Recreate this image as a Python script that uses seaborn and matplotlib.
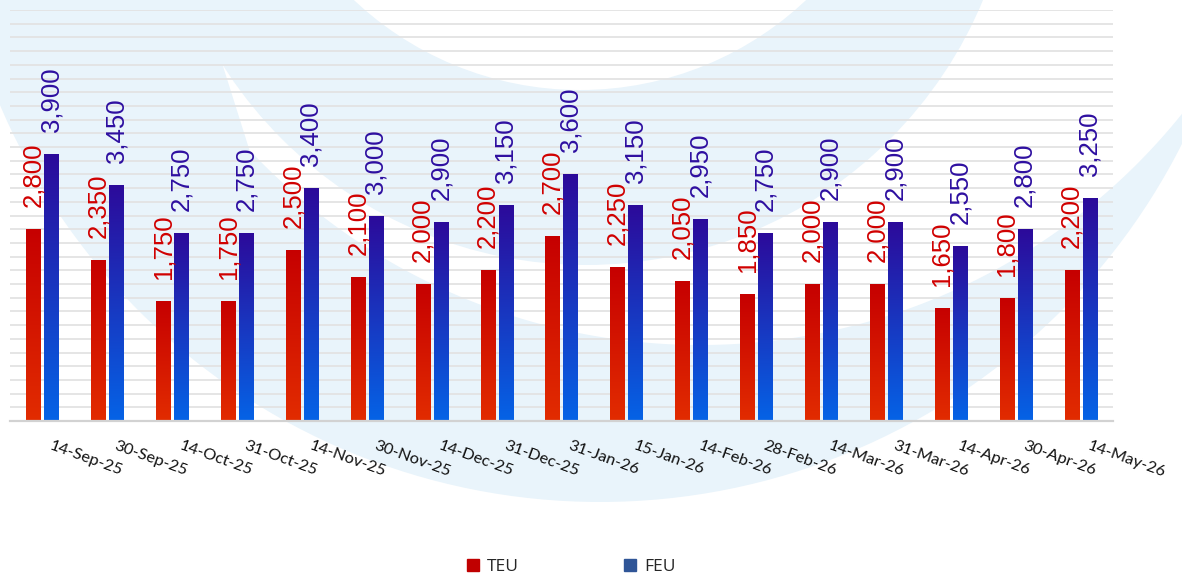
import numpy as np
import pandas as pd
import matplotlib
matplotlib.use("Agg")
import matplotlib.pyplot as plt
import matplotlib.transforms as mtrans
import seaborn as sns
from matplotlib.patches import Circle, Polygon
from matplotlib.lines import Line2D
from matplotlib.colors import LinearSegmentedColormap

# ---- data ----
dates = ["14-Sep-25", "30-Sep-25", "14-Oct-25", "31-Oct-25", "14-Nov-25",
         "30-Nov-25", "14-Dec-25", "31-Dec-25", "31-Jan-26", "15-Jan-26",
         "14-Feb-26", "28-Feb-26", "14-Mar-26", "31-Mar-26", "14-Apr-26",
         "30-Apr-26", "14-May-26"]
teu = [2800, 2350, 1750, 1750, 2500, 2100, 2000, 2200, 2700, 2250,
       2050, 1850, 2000, 2000, 1650, 1800, 2200]
feu = [3900, 3450, 2750, 2750, 3400, 3000, 2900, 3150, 3600, 3150,
       2950, 2750, 2900, 2900, 2550, 2800, 3250]
series = ["TEU", "FEU"]

df = pd.DataFrame({
    "date": dates * 2,
    "series": ["TEU"] * len(dates) + ["FEU"] * len(dates),
    "value": teu + feu,
})

# ---- styling ----
sns.set_theme(style="white")
plt.rcParams["font.family"] = ["Liberation Sans", "DejaVu Sans"]

W, H = 1182, 576
fig = plt.figure(figsize=(W / 100, H / 100), dpi=100, facecolor="white")

# faint logo watermark behind the chart (pixel coordinates, y downwards)
LB = "#E9F4FB"
bg = fig.add_axes([0, 0, 1, 1], zorder=0)
bg.set_xlim(0, W)
bg.set_ylim(H, 0)
bg.axis("off")
bg.add_patch(Circle((600, -150), 652, fc=LB, ec="none"))

# white swoosh: a large arc that tapers to a point on the upper left
cx, cy, r = 700.0, -273.0, 618.0
start = np.arctan2(150 - cy, np.sqrt(r**2 - (150 - cy) ** 2) * -1)
end = np.arctan2(-60 - cy, np.sqrt(r**2 - (-60 - cy) ** 2))
t = np.linspace(start, end - 2 * np.pi if end > start else end, 200)
arc = np.column_stack([cx + r * np.cos(t), cy + r * np.sin(t)])
swoosh = np.vstack([[[222, 63]], arc, [[1300, -60], [222, -60]]])
bg.add_patch(Polygon(swoosh, closed=True, fc="white", ec="none"))

bg.add_patch(Circle((586, -165), 430, fc=LB, ec="none"))
bg.add_patch(Circle((580, -239), 329, fc="white", ec="none"))

# main chart area
L, R, T, B = 10, 1113, 10, 421
ax = fig.add_axes([L / W, (H - B) / H, (R - L) / W, (B - T) / H], zorder=1)
ax.patch.set_alpha(0)

palette = {"TEU": "#D40000", "FEU": "#2A2AB0"}
sns.barplot(data=df, x="date", y="value", hue="series", hue_order=series,
            palette=palette, width=0.556, gap=0.22, legend=False,
            saturation=1, ax=ax)

ax.set_yticks(np.arange(0, 6001, 200))
ax.tick_params(axis="y", length=0, labelleft=False)
ax.grid(axis="y", color="#E3E3E3", linewidth=1.3)
ax.set_axisbelow(True)
ax.set_xlabel("")
ax.set_ylabel("")
for s in ("left", "top", "right"):
    ax.spines[s].set_visible(False)
ax.spines["bottom"].set_color("#D2D2D2")
ax.spines["bottom"].set_linewidth(1.6)

# vertical gradients for the bars
grads = {
    "TEU": LinearSegmentedColormap.from_list("teu", ["#E22C00", "#C60000"]),
    "FEU": LinearSegmentedColormap.from_list("feu", ["#0563E6", "#2C0A9A"]),
}
label_colors = {"TEU": "#D00000", "FEU": "#2E0FA0"}
grad = np.linspace(0, 1, 256).reshape(-1, 1)
for name, cont in zip(series, ax.containers):
    for bar in cont:
        x0, y0 = bar.get_x(), bar.get_y()
        w, h = bar.get_width(), bar.get_height()
        im = ax.imshow(grad, cmap=grads[name], origin="lower", aspect="auto",
                       extent=[x0, x0 + w, y0, y0 + h], zorder=2,
                       interpolation="bilinear")
        im.set_clip_path(bar)
        bar.set_facecolor("none")
        bar.set_edgecolor("none")
        ax.annotate(f"{int(h):,}", (x0 + w / 2, h), xytext=(0, 22),
                    textcoords="offset pixels", rotation=90,
                    ha="center", va="bottom", fontsize=18.5,
                    color=label_colors[name], zorder=3)
ax.set_xlim(-0.5, len(dates) - 0.5)
ax.set_ylim(0, 6000)

# category boundary ticks and slanted date labels
ax.set_xticks(np.arange(-0.5, len(dates), 1.0), minor=True)
ax.tick_params(axis="x", which="minor", length=5, width=1.5, color="#D2D2D2",
               direction="out")
ax.set_xticks(np.arange(len(dates)))
ax.set_xticklabels(dates, rotation=-20, ha="left", rotation_mode="anchor",
                   family=["Lato", "DejaVu Sans"], fontsize=11.8,
                   color="#111111")
ax.tick_params(axis="x", which="major", length=0, pad=13)
for lab in ax.get_xticklabels():
    lab.set_transform(lab.get_transform() +
                      mtrans.ScaledTranslation(10 / 100, 0, fig.dpi_scale_trans))

handles = [Line2D([], [], marker="s", linestyle="none", markersize=8,
                  markerfacecolor=c, markeredgecolor=c)
           for c in ("#C00000", "#2F5597")]
fig.legend(handles, series, loc="center", bbox_to_anchor=(571 / W, 9 / H),
           ncol=2, frameon=False, handlelength=0.8,
           handletextpad=0.4, columnspacing=6.0,
           prop={"family": ["Open Sans", "DejaVu Sans"], "size": 12.5})

fig.savefig("out.png", dpi=100, facecolor="white")
